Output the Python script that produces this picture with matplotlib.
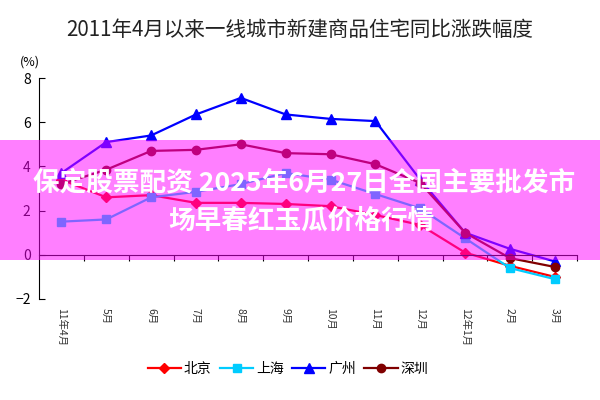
import matplotlib.pyplot as plt
from matplotlib.patches import Rectangle
from matplotlib.transforms import blended_transform_factory

plt.rcParams['font.family'] = ['Noto Sans CJK SC', 'DejaVu Sans']

months = ['11年4月', '5月', '6月', '7月', '8月', '9月', '10月', '11月',
          '12月', '12年1月', '2月', '3月']
beijing = [3.4, 2.6, 2.7, 2.35, 2.35, 2.3, 2.2, 1.8, 1.35, 0.1, -0.5, -1.0]
shanghai = [1.5, 1.6, 2.6, 2.85, 3.2, 3.7, 3.4, 2.75, 2.1, 0.75, -0.6, -1.1]
guangzhou = [3.7, 5.1, 5.4, 6.35, 7.1, 6.35, 6.15, 6.05, 3.4, 1.0, 0.27, -0.3]
shenzhen = [3.2, 3.85, 4.7, 4.75, 5.0, 4.6, 4.55, 4.1, 3.25, 1.0, -0.15, -0.55]

title = '2011年4月以来一线城市新建商品住宅同比涨跌幅度'
overlay = ['保定股票配资 2025年6月27日全国主要批发市', '场早春红玉瓜价格行情']

fig = plt.figure(figsize=(6, 4), dpi=100)
ax = fig.add_axes([0.065, 0.2525, 0.897, 0.5525])

x = list(range(len(months)))
ax.plot(x, beijing, color='#FF0000', marker='D', markersize=5, lw=1.6, label='北京')
ax.plot(x, shanghai, color='#00CCFF', marker='s', markersize=6, lw=1.6, label='上海')
ax.plot(x, guangzhou, color='#0000FF', marker='^', markersize=7, lw=1.6, label='广州')
ax.plot(x, shenzhen, color='#800000', marker='o', markersize=6, lw=1.6, label='深圳')

ax.set_xlim(-0.5, len(months) - 0.5)
ax.set_ylim(-2, 8)
ax.set_yticks([-2, 0, 2, 4, 6, 8])
ax.tick_params(axis='y', direction='in', length=4, labelsize=10, pad=6)

# category axis drawn at zero, labels low
ax.spines['bottom'].set_position(('data', 0))
ax.spines[['top', 'right']].set_visible(False)
ax.set_xticks([i + 0.5 for i in x])
ax.tick_params(axis='x', direction='out', length=4, labelbottom=False)
trans = blended_transform_factory(ax.transData, ax.transAxes)
for i, m in enumerate(months):
    ax.text(i, -0.04, m, transform=trans, rotation=-90, ha='center', va='top',
            fontsize=7.5, color='#333333')

fig.text(0.5, 0.925, title, ha='center', va='center', fontsize=14.8,
         fontweight='medium', color='#222222')
fig.text(0.05, 0.845, '(%)', ha='center', va='center', fontsize=9)

fig.legend(loc='center', bbox_to_anchor=(0.48, 0.0775), ncol=4, frameon=False,
           fontsize=10, handlelength=2.4, handletextpad=0.2, columnspacing=0.6)

fig.add_artist(Rectangle((0, 0.35), 1, 0.3, transform=fig.transFigure,
                         color='#FF00FF', alpha=0.5, lw=0, zorder=10))
fig.text(0.507, 1 - 183 / 400, overlay[0], ha='center', va='center', fontsize=19.2,
         fontweight='bold', color='white', zorder=11)
fig.text(0.502, 1 - 221 / 400, overlay[1], ha='center', va='center', fontsize=19.2,
         fontweight='bold', color='white', zorder=11)

fig.savefig('out.png', dpi=100)
